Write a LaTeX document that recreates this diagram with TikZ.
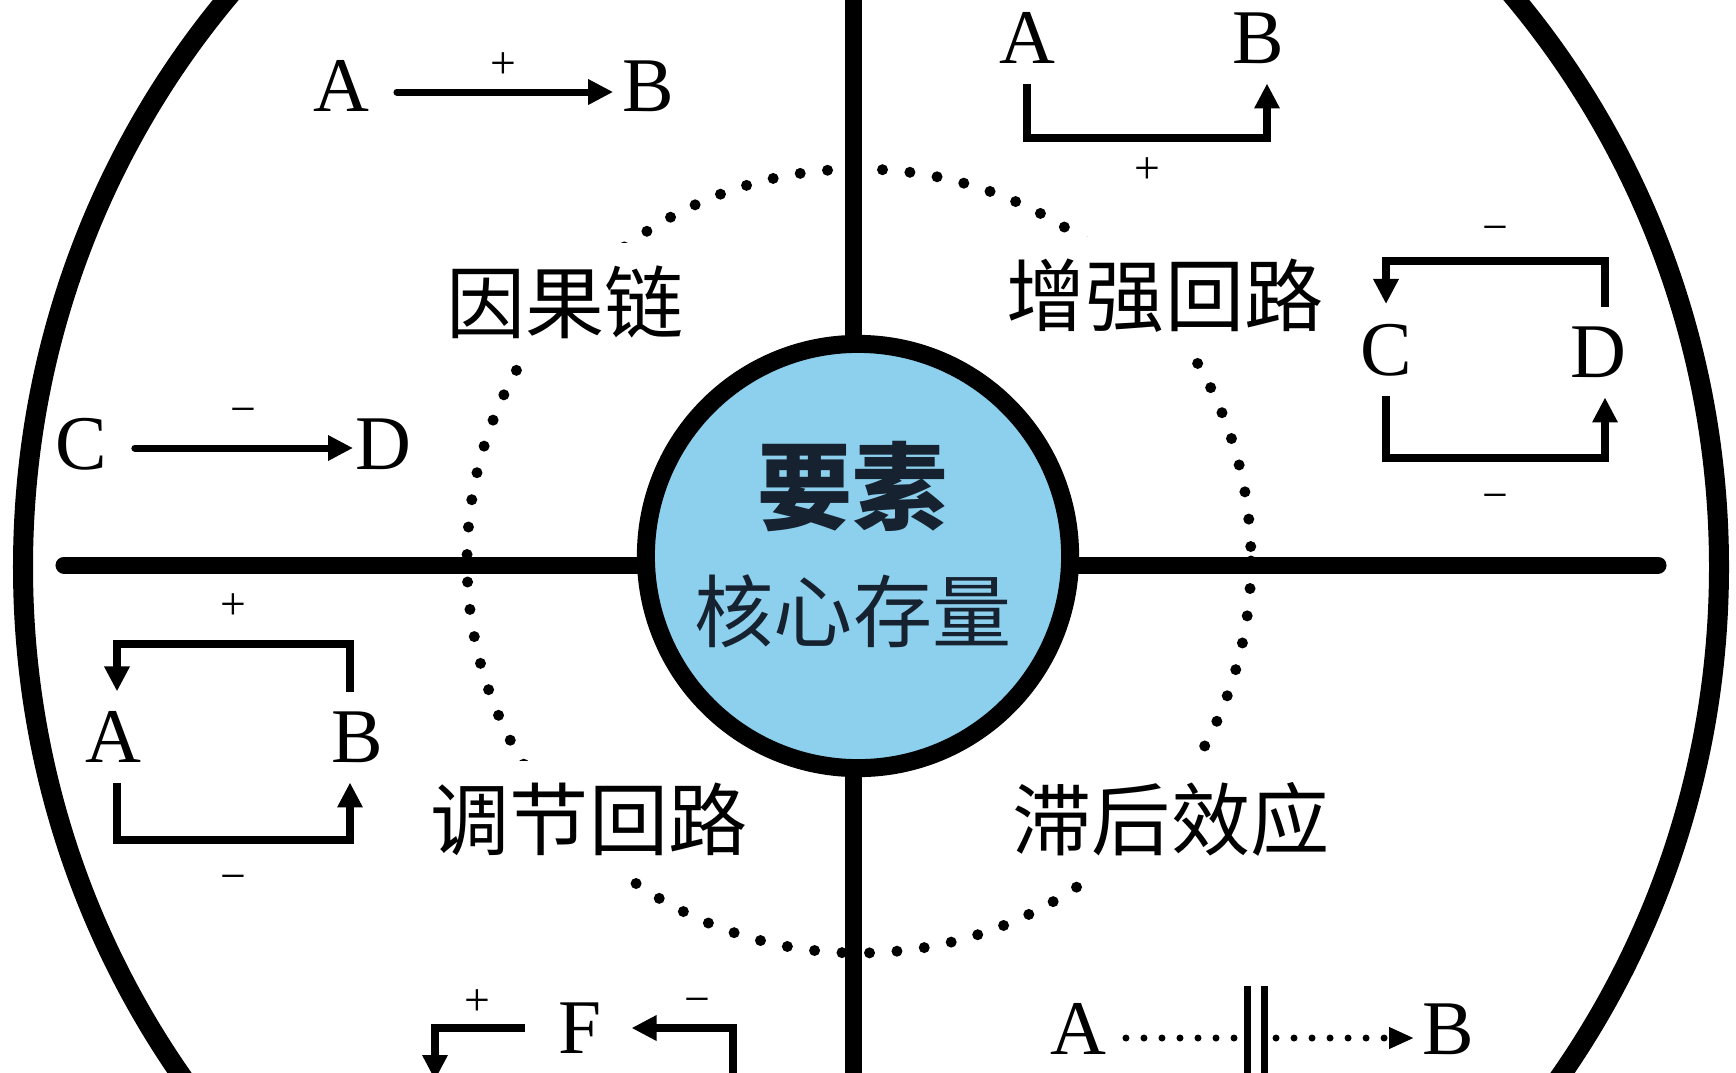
\documentclass[tikz,border=0pt]{standalone}
\usepackage{fontspec}
\setmainfont{Liberation Serif}
\newfontfamily\cjk{Noto Sans CJK SC}
\usetikzlibrary{arrows.meta}

\definecolor{stockblue}{RGB}{140,208,238}
\definecolor{stockink}{RGB}{22,34,48}

\begin{document}
\begin{tikzpicture}[
    x=0.01cm, y=-0.01cm,
    letter/.style  ={font=\fontsize{22}{22}\selectfont, inner sep=0pt, outer sep=0.2cm},
    sign/.style    ={font=\fontsize{13}{13}\selectfont, inner sep=0pt},
    title/.style   ={font=\cjk\fontsize{22.5}{27}\selectfont, fill=white, inner sep=0.22cm},
    link/.style    ={-{Triangle[length=0.25cm,width=0.24cm]}, line width=0.08cm},
    straight/.style={link, line width=0.07cm, line cap=round},
    bar/.style     ={line width=0.17cm, line cap=round},
    dots/.style    ={line width=0.07cm, line cap=round, dash pattern=on 0pt off 0.18cm}
]
\useasboundingbox (0,0) rectangle (1736,1072);

% --- outer ring and cross ---
\draw[line width=0.2cm] (871,567) ellipse[x radius=848, y radius=874];
\draw[bar] (853,-30) -- (853,1100);
\draw[bar] (64,565) -- (1658,565);

% --- dotted middle ring ---
\draw[line width=0.11cm, line cap=round, dash pattern=on 0pt off 0.275cm]
    (859,561) circle[radius=392];

% --- quadrant titles ---
\node[title] (chain)   at (565,302)  {因果链};
\node[title] (boost)   at (1165,296) {增强回路};
\node[title] (balance) at (589,819)  {调节回路};
\node[title] (lag)     at (1171,819) {滞后效应};

% --- hub ---
\node[circle, draw, line width=0.18cm, fill=stockblue, minimum size=4.24cm] (hub) at (858,556) {};
\node[font=\cjk\bfseries\fontsize{27}{30}\selectfont, text=stockink] (key) at (852,487) {要素};
\node[font=\cjk\fontsize{22.5}{27}\selectfont, text=stockink] (stock) at (853,611) {核心存量};

% --- causal chain: A -> B, C -> D ---
\node[letter] (ca) at (341,86) {A};
\node[letter] (cb) at (648,86) {B};
\draw[straight, shorten <=0.08cm, shorten >=-0.11cm]
    ([yshift=-0.06cm]ca.east) -- node[sign, above=0.1cm, xshift=0.08cm]{+} ([yshift=-0.06cm]cb.west);

\node[letter] (cc) at (81,444) {C};
\node[letter] (cd) at (383,444) {D};
\draw[straight, shorten <=0.08cm, shorten >=-0.18cm]
    ([yshift=-0.04cm]cc.east) -- node[sign, above=0.2cm, xshift=0.12cm]{−} ([yshift=-0.04cm]cd.west);

% --- reinforcing loops ---
\node[letter] (ta) at (1027,38) {A};
\node[letter] (tb) at (1258,38) {B};
\draw[link] (ta.south) -- ++(0,54) -| node[sign, pos=0.25, below=0.16cm]{+} ([xshift=0.09cm]tb.south);

\node[letter] (rc) at (1386,350) {C};
\node[letter] (rd) at (1598,352) {D};
\draw[link] ([xshift=0.07cm]rd.north) -- ++(0,-46) -| node[sign, pos=0.25, above=0.14cm]{−} (rc.north);
\draw[link] (rc.south) -- ++(0,62) -| node[sign, pos=0.25, below=0.32cm]{−} ([xshift=0.07cm]rd.south);

% --- balancing loop ---
\node[letter] (la) at (113,737) {A};
\node[letter] (lb) at (357,737) {B};
\draw[link] ([xshift=-0.07cm]lb.north) -- ++(0,-48) -| node[sign, pos=0.25, above=0.2cm]{+} ([xshift=0.04cm]la.north);
\draw[link] ([xshift=0.04cm]la.south) -- ++(0,57) -| node[sign, pos=0.25, below=0.32cm]{−} ([xshift=-0.07cm]lb.south);

% --- F, cut by the frame ---
\node[letter, outer sep=0pt] (ff) at (580,1028) {F};
\coordinate (fdrop) at (435,1080);
\coordinate (frise) at (733,1100);
\draw[link, shorten <=0.33cm] (ff.west) -| node[sign, pos=0.33, above=0.09cm]{+} (fdrop);
\draw[link, shorten >=0.3cm] (frise) |- node[sign, pos=0.635, above=0.1cm]{−} (ff.east);

% --- delay: A ...||...> B ---
\node[letter, outer sep=0pt] (da) at (1078,1029) {A};
\node[letter, outer sep=0pt] (db) at (1448,1029) {B};
\coordinate (gap) at (1256,1038);
\draw[dots, shorten <=0.2cm] (da.east |- gap) -- ([xshift=-0.2cm]gap);
\draw[dots, -{Triangle[length=0.25cm,width=0.2cm]}, shorten >=0.08cm]
    ([xshift=0.2cm]gap) -- (db.west |- gap);
\draw[line width=0.07cm] ([xshift=-0.085cm]gap) ++(0,-52) -- ++(0,150);
\draw[line width=0.07cm] ([xshift=0.085cm]gap) ++(0,-52) -- ++(0,150);

\end{tikzpicture}
\end{document}
